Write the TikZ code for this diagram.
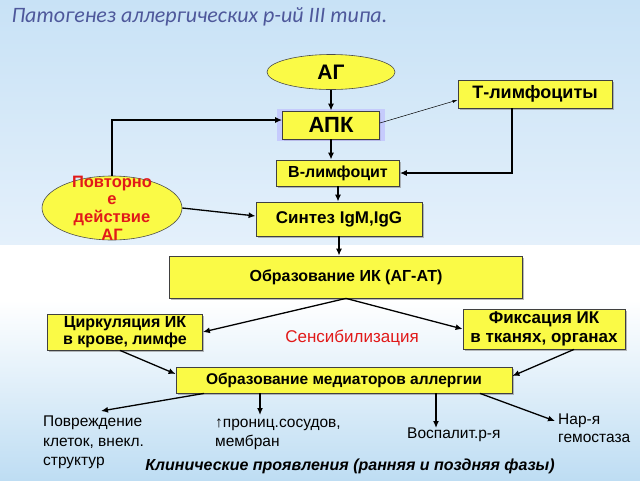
\documentclass[tikz,border=0pt]{standalone}
\usepackage{fontspec}
\setmainfont{Liberation Sans}
\newfontfamily\titlefont{Carlito}
\usetikzlibrary{shapes.geometric,arrows.meta,shadows}
\definecolor{boxyel}{RGB}{250,250,70}
\definecolor{bgtop}{RGB}{200,226,246}
\definecolor{bgmid}{RGB}{228,240,251}
\definecolor{bglow}{RGB}{190,221,243}
\definecolor{titleblue}{RGB}{78,88,155}
\definecolor{redtext}{RGB}{225,25,25}
\newcommand\fs[1]{\bfseries\fontsize{#1}{#1}\selectfont}
\begin{document}
\begin{tikzpicture}[x=1pt, y=-1pt,
        b/.style={draw=black!75, fill=boxyel, line width=0.8pt, inner sep=1pt,
                  drop shadow={shadow xshift=1.5pt, shadow yshift=-1.5pt, fill=black!45, opacity=.6},
                  align=center},
        ov/.style={draw=black!70, fill=boxyel, ellipse, inner sep=0pt, line width=0.6pt},
        a/.style={-{Latex[length=7pt,width=6pt]}, line width=1.3pt},
        ta/.style={-{Latex[length=5pt,width=3pt]}, line width=0.5pt},
        res/.style={font=\fontsize{15.5}{19.5}\selectfont, align=left, inner sep=0pt}]
    % background
    \fill[top color=bgtop, bottom color=bgmid] (0,0) rectangle (640,245);
    \fill[white] (0,245) rectangle (640,300);
    \fill[top color=white, bottom color=bglow] (0,300) rectangle (640,480);
    \useasboundingbox (0,0) rectangle (640,480);

    \node[anchor=west, text=titleblue, font=\titlefont\itshape\fontsize{22}{24}\selectfont] (title) at (8,17) {Патогенез аллергических р-ий III типа.};

    \node[ov, font=\fs{21}, minimum width=128, minimum height=35] (ag) at (331,72) {АГ};
    \node[b, font=\fs{22}, minimum width=97, minimum height=28, inner sep=0pt,
          drop shadow={shadow xshift=0pt, shadow yshift=0pt, shadow scale=1.12, fill=blue!25, opacity=.7}] (apk) at (331,125) {АПК};
    \node[b, font=\fs{18}, minimum width=154, minimum height=28] (tl) at (535,94) {Т-лимфоциты};
    \node[b, font=\fs{16}, minimum width=123, minimum height=26] (bl) at (338,173) {В-лимфоцит};
    \node[b, font=\fs{17}, minimum width=166, minimum height=34] (synth) at (339,219) {Синтез IgM,IgG};
    \node[b, font=\fs{16}, minimum width=353, minimum height=42] (ik) at (346,277) {Образование ИК (АГ-АТ)};
    \node[b, font=\bfseries\fontsize{16}{17}\selectfont, minimum width=155, minimum height=36] (circ) at (125,332) {Циркуляция ИК\\в крове, лимфе};
    \node[b, font=\bfseries\fontsize{17}{19}\selectfont, minimum width=162, minimum height=40] (fix) at (544,329) {Фиксация ИК\\в тканях, органах};
    \node[text=redtext, font=\fontsize{17}{17}\selectfont] (sens) at (352,338) {Сенсибилизация};
    \node[b, font=\fs{15.5}, minimum width=336, minimum height=26] (med) at (344,380) {Образование медиаторов аллергии};

    \node[ov, minimum width=140, minimum height=64,
          label={[text=redtext, align=center, font=\bfseries\fontsize{16.5}{17.7}\selectfont]center:{Повторно\\е\\действие\\АГ}}] (pov) at (112,208) {};

    % outcomes
    \node[res, anchor=north west] (povr) at (43,416) {Повреждение\\клеток, внекл.\\структур};
    \node[res, anchor=north west, font=\fontsize{15.5}{19}\selectfont] (pron) at (215,419) {↑прониц.сосудов,\\мембран};
    \node[res, anchor=north west] (vosp) at (407,428) {Воспалит.р-я};
    \node[res, anchor=north west, font=\fontsize{15.5}{18}\selectfont] (nar) at (558,414) {Нар-я\\гемостаза};
    \node[font=\bfseries\itshape\fontsize{16}{18}\selectfont] (clin) at (350,466) {Клинические проявления (ранняя и поздняя фазы)};

    % arrows
    \draw[a] (ag.south) -- (apk.north);
    \draw[ta] ([yshift=2pt]apk.east) -- ([yshift=-6pt]tl.west);
    \draw[a] (apk.south) -- (apk.south |- bl.north);
    \draw[a] ([xshift=-23pt]tl.south) |- (bl.east);
    \draw[a] (pov.north) |- ([yshift=5pt]apk.west);
    \draw[a] (pov.east) -- ([yshift=3pt]synth.west);
    \draw[a] (bl.south) -- (bl.south |- synth.north);
    \draw[a] (synth.south) -- (synth.south |- ik.north);
    \draw[a] (ik.south) -- (circ.east);
    \draw[a] (ik.south) -- (fix.west);
    \draw[a] ([xshift=-5pt]circ.south) -- ([yshift=6pt]med.west);
    \draw[a] ([xshift=30pt]fix.south) -- ([yshift=4pt]med.east);
    \draw[a] ([xshift=-140pt]med.south) -- ([xshift=58pt, yshift=5pt]povr.north west);
    \draw[a] ([xshift=-84pt]med.south) -- ([xshift=-84pt, yshift=4pt]med.south |- pron.north);
    \draw[a] ([xshift=92pt]med.south) -- ([xshift=92pt]med.south |- vosp.north);
    \draw[a] ([xshift=136pt]med.south) -- ([xshift=-3pt, yshift=-7pt]nar.north west);
\end{tikzpicture}
\end{document}
